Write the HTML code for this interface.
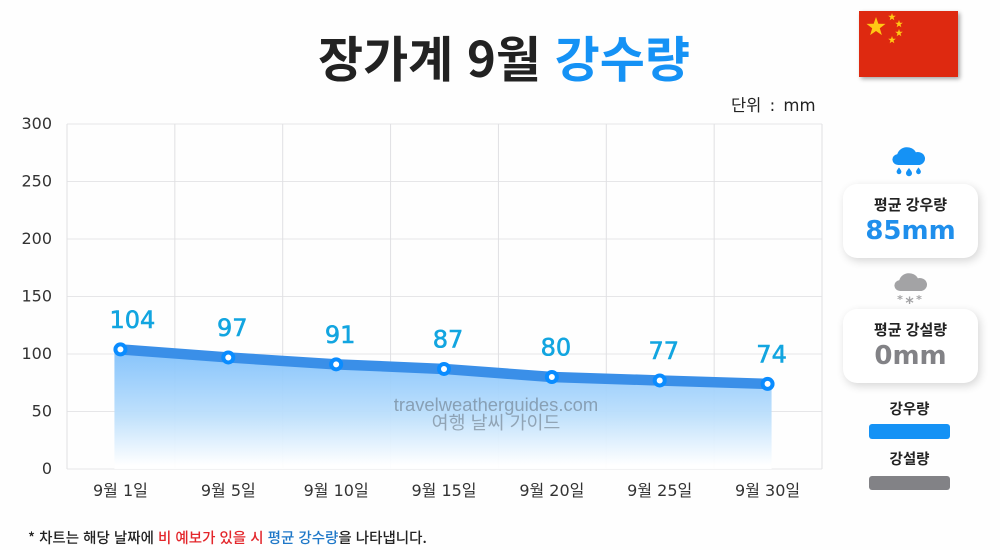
<!DOCTYPE html>
<html lang="ko">
<head>
<meta charset="utf-8">
<title>장가계 9월 강수량</title>
<style>
html,body{margin:0;padding:0;background:#fefefe;}
#page{position:relative;width:1000px;height:550px;overflow:hidden;background:#fefefe;
  font-family:"Noto Sans CJK KR","Liberation Sans",sans-serif;color:#222;}
.abs{position:absolute;white-space:nowrap;}
.card{position:absolute;left:843px;width:135px;height:74px;background:#fff;border-radius:14px;
  box-shadow:2px 3px 9px rgba(0,0,0,.16);text-align:center;}
.card .t{position:absolute;left:0;right:0;top:11px;font-size:15px;font-weight:700;line-height:20px;color:#222;}
.card .v{position:absolute;left:0;right:0;top:28px;font-family:"DejaVu Sans","Noto Sans CJK KR",sans-serif;font-size:26px;font-weight:700;line-height:38px;}
svg{position:absolute;left:0;top:0;}
</style>
</head>
<body>
<div id="page">
  <div class="abs" style="left:318px;top:28px;font-size:49px;font-weight:700;line-height:58px;color:#222;">장가계 9월 <span style="color:#1592f5;">강수량</span></div>
  <div class="abs" style="left:731px;top:94px;font-family:'DejaVu Sans','Noto Sans CJK KR',sans-serif;font-size:16.5px;word-spacing:3px;line-height:24px;color:#222;">단위 : mm</div>

  <svg id="chart" width="1000" height="550" xmlns="http://www.w3.org/2000/svg">
    <defs>
      <linearGradient id="areaGrad" x1="0" y1="0" x2="0" y2="1">
        <stop offset="0" stop-color="#7fc0fb"/>
        <stop offset="0.55" stop-color="#bcdffc"/>
        <stop offset="0.97" stop-color="#ffffff"/>
      </linearGradient>
    </defs>
    <g id="grid"></g>
    <g id="series"></g>
    <g id="labels"></g>
  </svg>

  <div class="abs" style="left:366px;width:260px;top:396px;text-align:center;font-family:'Liberation Sans','Noto Sans CJK KR',sans-serif;font-size:18.4px;line-height:18px;color:rgba(90,100,110,.5);">travelweatherguides.com<br>여행 날씨 가이드</div>

  <svg style="left:859px;top:11px;filter:drop-shadow(2px 2px 2px rgba(0,0,0,.35));" width="99" height="66" viewBox="0 0 99 66">
    <rect width="99" height="66" fill="#de2910"/>
    <polygon fill="#ffc814" points="0,-10 2.35,-3.24 9.51,-3.09 3.8,1.24 5.88,8.09 0,4 -5.88,8.09 -3.8,1.24 -9.51,-3.09 -2.35,-3.24" transform="translate(17,16)"/>
    <polygon fill="#ffc814" points="0,-10 2.35,-3.24 9.51,-3.09 3.8,1.24 5.88,8.09 0,4 -5.88,8.09 -3.8,1.24 -9.51,-3.09 -2.35,-3.24" transform="translate(33,6) scale(.4)"/>
    <polygon fill="#ffc814" points="0,-10 2.35,-3.24 9.51,-3.09 3.8,1.24 5.88,8.09 0,4 -5.88,8.09 -3.8,1.24 -9.51,-3.09 -2.35,-3.24" transform="translate(40,13) scale(.4)"/>
    <polygon fill="#ffc814" points="0,-10 2.35,-3.24 9.51,-3.09 3.8,1.24 5.88,8.09 0,4 -5.88,8.09 -3.8,1.24 -9.51,-3.09 -2.35,-3.24" transform="translate(40,22) scale(.4)"/>
    <polygon fill="#ffc814" points="0,-10 2.35,-3.24 9.51,-3.09 3.8,1.24 5.88,8.09 0,4 -5.88,8.09 -3.8,1.24 -9.51,-3.09 -2.35,-3.24" transform="translate(33,29) scale(.4)"/>
  </svg>

  <svg style="left:892px;top:146px;" width="34" height="32" viewBox="0 0 34 32">
    <path fill="#1592f5" d="M7 19a5.5 5.5 0 0 1-.8-10.9A9 9 0 0 1 23 6.2 6.6 6.6 0 0 1 26.5 19z" transform="translate(-1.5,0) scale(1.1,1)"/>
    <path fill="#1592f5" d="M7 21.5c1.8 2.3 2.4 3.3 2.4 4.3a2.4 2.4 0 0 1-4.8 0c0-1 .6-2 2.4-4.3zM17 22c2.2 2.8 3 4 3 5.3a3 3 0 0 1-6 0c0-1.300.8-2.500 3-5.300zM26.500 21.500c1.800 2.300 2.400 3.300 2.400 4.300a2.400 2.400 0 0 1-4.800 0c0-1 .6-2 2.400-4.300z"/>
  </svg>
  <div class="card" style="top:184px;">
    <div class="t">평균 강우량</div>
    <div class="v" style="color:#1f8fec;">85mm</div>
  </div>

  <svg style="left:894px;top:272px;" width="34" height="33" viewBox="0 0 34 33">
    <path fill="#a3a3a5" d="M7 19a5.500 5.500 0 0 1-.8-10.900A9 9 0 0 1 23 6.200 6.600 6.600 0 0 1 26.500 19z" transform="translate(-1.5,0) scale(1.1,1)"/>
    <text x="6" y="31" font-size="11" fill="#a3a3a5" text-anchor="middle" font-family="'DejaVu Sans',sans-serif" font-weight="700">*</text>
    <text x="15.500" y="36" font-size="16" fill="#a3a3a5" text-anchor="middle" font-family="'DejaVu Sans',sans-serif" font-weight="700">*</text>
    <text x="25" y="31" font-size="11" fill="#a3a3a5" text-anchor="middle" font-family="'DejaVu Sans',sans-serif" font-weight="700">*</text>
  </svg>
  <div class="card" style="top:309px;">
    <div class="t">평균 강설량</div>
    <div class="v" style="color:#828286;">0mm</div>
  </div>

  <div class="abs" style="left:869px;width:81px;top:399px;text-align:center;font-size:14.5px;font-weight:700;line-height:20px;color:#222;">강우량</div>
  <div class="abs" style="left:869px;top:424px;width:81px;height:15px;border-radius:3px;background:#1592f5;"></div>
  <div class="abs" style="left:869px;width:81px;top:449px;text-align:center;font-size:14.5px;font-weight:700;line-height:20px;color:#222;">강설량</div>
  <div class="abs" style="left:869px;top:476px;width:81px;height:14px;border-radius:3px;background:#828286;"></div>

  <div class="abs" style="left:28px;top:528px;font-size:14.5px;font-weight:500;line-height:20px;color:#222;">* 차트는 해당 날짜에 <span style="color:#e3262b;">비 예보가 있을 시</span> <span style="color:#1f78c8;">평균 강수량</span>을 나타냅니다.</div>
</div>

<script>
const categories = ['9월 1일', '9월 5일', '9월 10일', '9월 15일', '9월 20일', '9월 25일', '9월 30일'];
const rainfall = [104, 97, 91, 87, 80, 77, 74];
const yTicks = [0, 50, 100, 150, 200, 250, 300];

const NS = 'http://www.w3.org/2000/svg';
const plot = {left: 67, right: 822, top: 124, bottom: 469};
const yMax = yTicks[yTicks.length - 1];
const band = (plot.right - plot.left) / categories.length;
const xScale = function (i) { return plot.left + band * (i + 0.5) - 0.5; };
const yScale = function (v) { return plot.bottom - (v / yMax) * (plot.bottom - plot.top); };

function mk(tag, attrs, parent, text) {
  const el = document.createElementNS(NS, tag);
  for (const k in attrs) el.setAttribute(k, attrs[k]);
  if (text !== undefined) el.textContent = text;
  parent.appendChild(el);
  return el;
}

const gridG = document.getElementById('grid');
const seriesG = document.getElementById('series');
const labelsG = document.getElementById('labels');
const tickFont = '"DejaVu Sans","Noto Sans CJK KR",sans-serif';

yTicks.forEach(function (t) {
  const y = yScale(t);
  const line = mk('line', {x1: plot.left, x2: plot.right, y1: y, y2: y, stroke: '#e6e6e8', 'stroke-width': 1}, gridG);
  
  
  const label = mk('text', {x: 52, y: y + 5, 'text-anchor': 'end', 'font-size': 16, fill: '#333', 'font-family': tickFont}, labelsG, String(t));
  
  
});

for (let i = 0; i <= categories.length; i++) {
  const x = plot.left + band * i;
  const line = mk('line', {x1: x, x2: x, y1: plot.top, y2: plot.bottom, stroke: '#e0e0e3', 'stroke-width': 1}, gridG);
  
  
}

categories.forEach(function (c, i) {
  const label = mk('text', {x: xScale(i), y: 496, 'text-anchor': 'middle', 'font-size': 16, fill: '#333', 'font-family': tickFont}, labelsG, c);
  
  
});

const pts = rainfall.map(function (v, i) { return [xScale(i), yScale(v)]; });
const firstX = pts[0][0] - 6;
const lastX = pts[pts.length - 1][0] + 4;
let areaD = 'M' + firstX + ' ' + plot.bottom + ' L' + firstX + ' ' + pts[0][1];
pts.forEach(function (p) { areaD += ' L' + p[0] + ' ' + p[1]; });
areaD += ' L' + lastX + ' ' + pts[pts.length - 1][1] + ' L' + lastX + ' ' + plot.bottom + ' Z';
const area = mk('path', {d: areaD, fill: 'url(#areaGrad)', opacity: 0.95}, seriesG);



const rainLine = mk('polyline', {points: pts.map(function (p) { return p.join(','); }).join(' '), fill: 'none', stroke: '#3a8fe8', 'stroke-width': 10.5, 'stroke-linejoin': 'round'}, seriesG);



rainfall.forEach(function (v, i) {
  const p = pts[i];
  const dot = mk('circle', {cx: p[0], cy: p[1], r: 5, fill: '#fff', stroke: '#0a8cff', 'stroke-width': 4}, seriesG);
  
  
  const digits = String(v).length;
  const label = mk('text', {x: p[0] + 4 + (digits - 2) * 8, y: p[1] - 21.5, 'text-anchor': 'middle', 'font-size': 24, fill: '#12a5e0', stroke: '#12a5e0', 'stroke-width': 0.6, 'font-family': tickFont}, labelsG, String(v));
  
  
});
</script>
</body>
</html>
